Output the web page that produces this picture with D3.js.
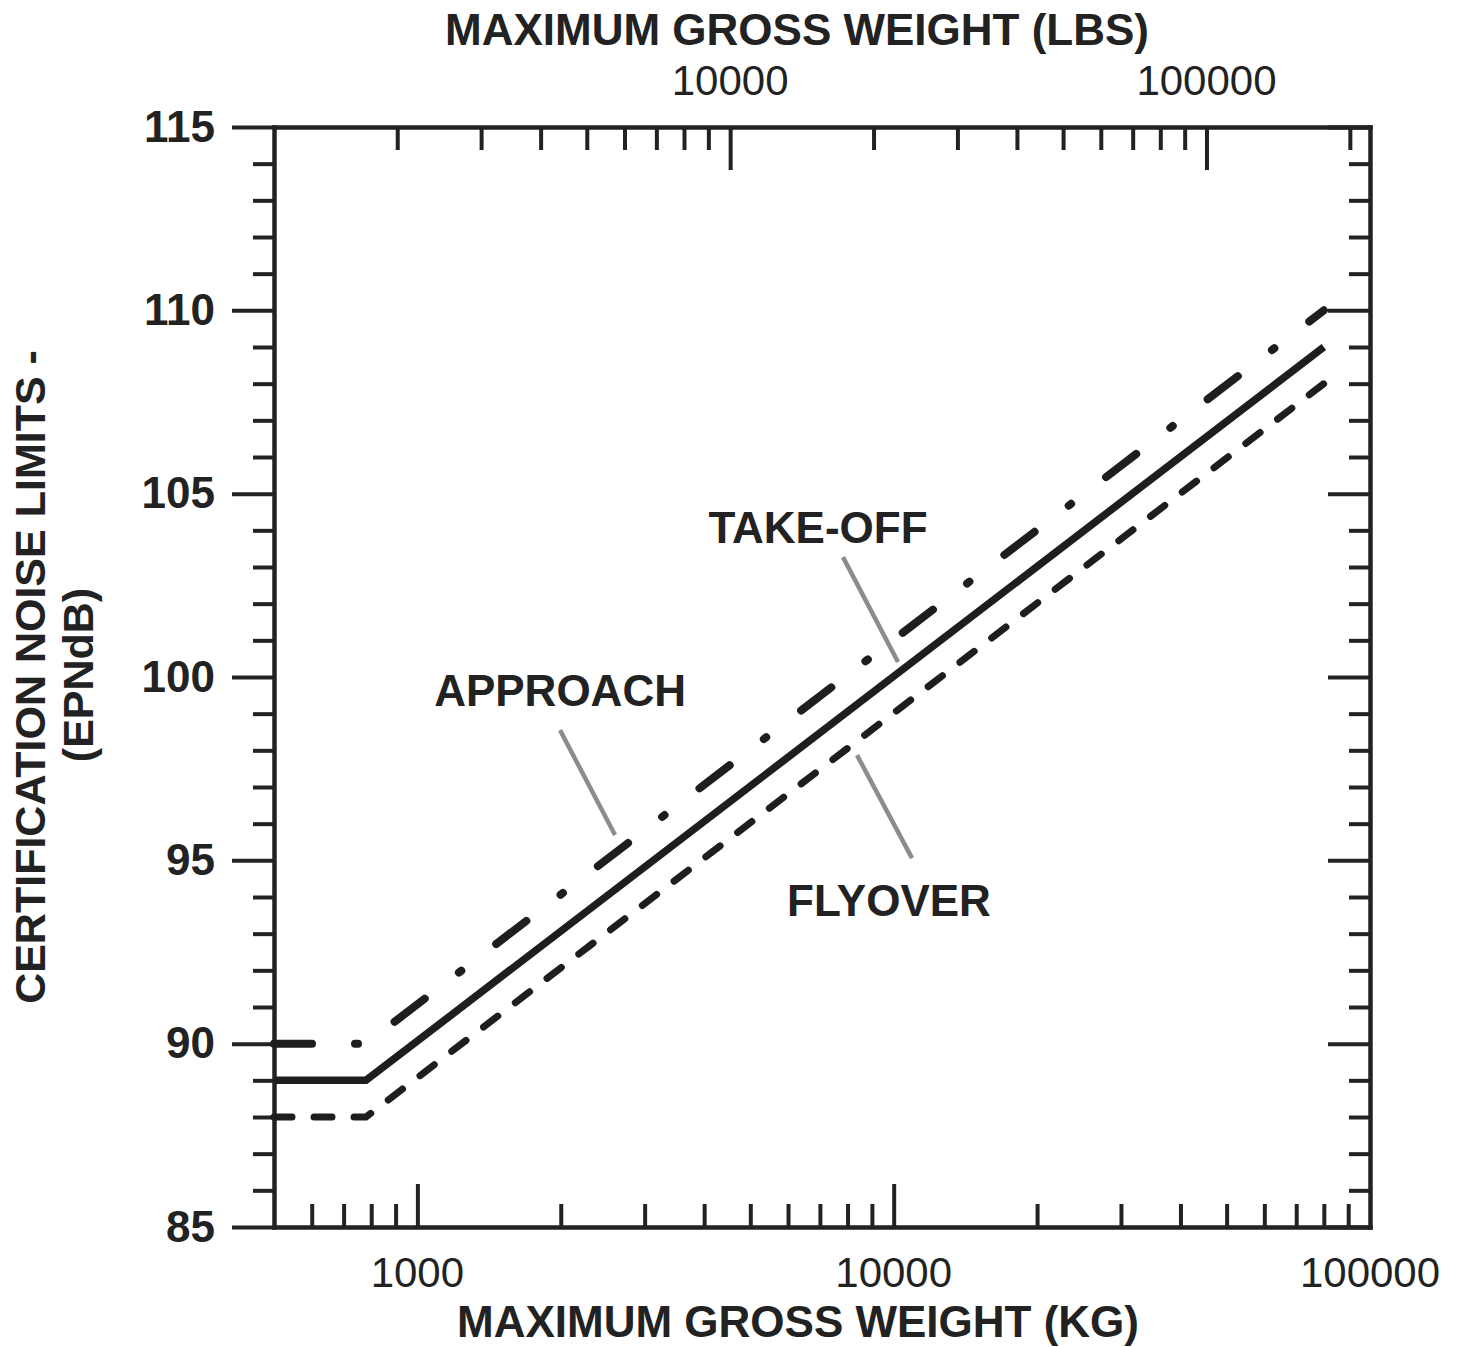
<!DOCTYPE html>
<html>
    <head>
        <meta charset="utf-8">
        <script src="https://d3js.org/d3.v7.min.js"></script>
        <style>
        body { margin: 0; background: #fff; }
        text { font-family: "Liberation Sans", Arial, sans-serif; fill: #222; }
        .bold { font-weight: bold; }
        </style>
    </head>
    <body>
        <div id="chartContainer"></div>
        <script type="text/javascript">
            // data (weights in kg, limits in EPNdB)
            var weightsKg = [500, 780, 80000];
            var takeoff   = [89, 89, 109];
            var approach  = [90, 90, 110];
            var flyover   = [88, 88, 108];

            var kgTicks  = [600, 700, 800, 900, 1000, 2000, 3000, 4000, 5000, 6000, 7000, 8000, 9000,
                            10000, 20000, 30000, 40000, 50000, 60000, 70000, 80000, 90000];
            var kgLabels = [1000, 10000, 100000];
            var lbsTicks = [2000, 3000, 4000, 5000, 6000, 7000, 8000, 9000, 10000,
                            20000, 30000, 40000, 50000, 60000, 70000, 80000, 90000, 100000, 200000];
            var lbsLabels = [10000, 100000];
            var dbTicks = d3.range(85, 116);

            // label name, text anchor point [kg, dB], leader from [kg, dB] to [kg, dB]
            var labelNames  = ["TAKE-OFF", "APPROACH", "FLYOVER"];
            var labelAt     = [[6935, 103.65], [1993, 99.2], [9775, 93.48]];
            var leaderFrom  = [[7826, 103.27], [1993, 98.55], [8375, 97.87]];
            var leaderTo    = [[10210, 100.41], [2600, 95.69], [10925, 95.06]];

            var width = 1463,
                height = 1347;
            var plotL = 274, plotR = 1370, plotT = 127, plotB = 1227;
            var KG_PER_LB = 0.45359237;

            var svg = d3.select("#chartContainer")
                        .append("svg")
                        .attr("width", width)
                        .attr("height", height);

            svg.append("rect").attr("width", width).attr("height", height).attr("fill", "#fff");

            var x = d3.scaleLog().domain([500, 100000]).range([plotL, plotR]);
            var xLbs = d3.scaleLog().domain([500 / KG_PER_LB, 100000 / KG_PER_LB]).range([plotL, plotR]);
            var y = d3.scaleLinear().domain([85, 115]).range([plotB, plotT]);

            function styleAxis(g, majorTest, majorLen, vertical) {
                g.select(".domain").attr("stroke", "#222").attr("stroke-width", 4.5)
                    .attr("stroke-linecap", "square");
                g.selectAll(".tick line").attr("stroke", "#222").attr("stroke-width", 4);
                g.selectAll(".tick").filter(majorTest).select("line")
                    .attr(vertical ? "x2" : "y2", majorLen);
                g.selectAll(".tick text").attr("fill", "#222");
            }

            // left axis: ticks out
            var gL = svg.append("g").attr("transform", "translate(" + plotL + ",0)")
                .call(d3.axisLeft(y).tickValues(dbTicks).tickSizeInner(21).tickSizeOuter(0)
                    .tickPadding(38).tickFormat(function(d) { return d % 5 === 0 ? d : ""; }));
            styleAxis(gL, function(d) { return d % 5 === 0; }, -42, true);
            gL.selectAll(".tick text").attr("class", "bold").style("font-size", "44px");

            // right axis: ticks in
            var gR = svg.append("g").attr("transform", "translate(" + plotR + ",0)")
                .call(d3.axisRight(y).tickValues(dbTicks).tickSizeInner(-21).tickSizeOuter(0)
                    .tickFormat(""));
            styleAxis(gR, function(d) { return d % 5 === 0; }, -42, true);

            // bottom axis (kg): ticks in
            var gB = svg.append("g").attr("transform", "translate(0," + plotB + ")")
                .call(d3.axisBottom(x).tickValues(kgTicks).tickSizeInner(-23).tickSizeOuter(0)
                    .tickFormat(""));
            styleAxis(gB, function(d) { return kgLabels.indexOf(d) >= 0; }, -43, false);
            gB.selectAll(".lab").data(kgLabels).join("text")
                .attr("x", function(d) { return x(d); })
                .attr("y", 60)
                .attr("text-anchor", "middle")
                .style("font-size", "42px")
                .text(function(d) { return d; });

            // top axis (lbs): ticks in
            var gT = svg.append("g").attr("transform", "translate(0," + plotT + ")")
                .call(d3.axisTop(xLbs).tickValues(lbsTicks).tickSizeInner(-23).tickSizeOuter(0)
                    .tickFormat(""));
            styleAxis(gT, function(d) { return lbsLabels.indexOf(d) >= 0; }, 43, false);
            gT.selectAll(".lab").data(lbsLabels).join("text")
                .attr("x", function(d) { return xLbs(d); })
                .attr("y", -32)
                .attr("text-anchor", "middle")
                .style("font-size", "42px")
                .text(function(d) { return d; });

            // curves
            var line = d3.line()
                .x(function(d) { return x(d[0]); })
                .y(function(d) { return y(d[1]); });

            function pts(vals) { return weightsKg.map(function(w, i) { return [w, vals[i]]; }); }

            svg.append("path").datum(pts(takeoff))
                .attr("d", line).attr("fill", "none")
                .attr("stroke", "#1e1e1e").attr("stroke-width", 7.5);

            svg.append("path").datum(pts(approach))
                .attr("d", line).attr("fill", "none")
                .attr("stroke", "#1e1e1e").attr("stroke-width", 8)
                .attr("stroke-linecap", "round")
                .attr("stroke-dasharray", "38,43,3,44");

            svg.append("path").datum(pts(flyover))
                .attr("d", line).attr("fill", "none")
                .attr("stroke", "#1e1e1e").attr("stroke-width", 7)
                .attr("stroke-linecap", "round")
                .attr("stroke-dasharray", "18,22");

            // leaders and labels
            labelNames.forEach(function(name, i) {
                svg.append("line")
                    .attr("x1", x(leaderFrom[i][0])).attr("y1", y(leaderFrom[i][1]))
                    .attr("x2", x(leaderTo[i][0])).attr("y2", y(leaderTo[i][1]))
                    .attr("stroke", "#8c8c8c").attr("stroke-width", 4.5);
                svg.append("text")
                    .attr("class", "bold")
                    .attr("x", x(labelAt[i][0]))
                    .attr("y", y(labelAt[i][1]))
                    .attr("text-anchor", "middle")
                    .style("font-size", "44px")
                    .text(name);
            });

            // axis titles
            svg.append("text").attr("class", "bold")
               .attr("x", 797).attr("y", 45)
               .attr("text-anchor", "middle").style("font-size", "44px")
               .text("MAXIMUM GROSS WEIGHT (LBS)");

            svg.append("text").attr("class", "bold")
               .attr("x", 798).attr("y", 1337)
               .attr("text-anchor", "middle").style("font-size", "44px")
               .text("MAXIMUM GROSS WEIGHT (KG)");

            svg.append("text").attr("class", "bold")
               .attr("transform", "translate(45,677) rotate(-90)")
               .attr("text-anchor", "middle").style("font-size", "43px")
               .text("CERTIFICATION NOISE LIMITS -");

            svg.append("text").attr("class", "bold")
               .attr("transform", "translate(93,675) rotate(-90)")
               .attr("text-anchor", "middle").style("font-size", "43px")
               .text("(EPNdB)");
        </script>
    </body>
</html>
